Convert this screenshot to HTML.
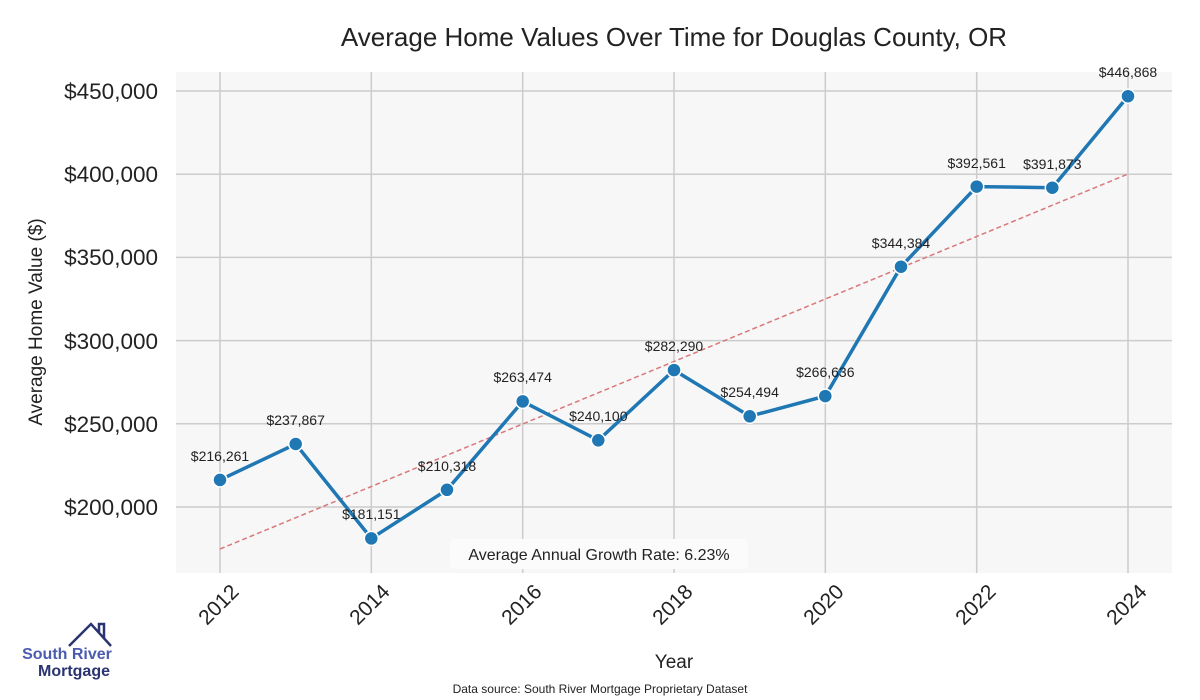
<!DOCTYPE html>
<html><head><meta charset="utf-8"><style>body{margin:0;background:#fff}svg{display:block;font-family:"Liberation Sans",sans-serif}</style></head><body>
<svg width="1200" height="700" xmlns="http://www.w3.org/2000/svg">
<rect x="176" y="72" width="996" height="501" fill="#f7f7f7"/>
<g stroke="#cccccc" stroke-width="1.5">
<line x1="176" x2="1172" y1="91" y2="91"/><line x1="176" x2="1172" y1="174.2" y2="174.2"/><line x1="176" x2="1172" y1="257.4" y2="257.4"/><line x1="176" x2="1172" y1="340.6" y2="340.6"/><line x1="176" x2="1172" y1="423.8" y2="423.8"/><line x1="176" x2="1172" y1="507" y2="507"/>
<line y1="72" y2="573" x1="220" x2="220"/><line y1="72" y2="573" x1="371.3" x2="371.3"/><line y1="72" y2="573" x1="522.7" x2="522.7"/><line y1="72" y2="573" x1="674" x2="674"/><line y1="72" y2="573" x1="825.3" x2="825.3"/><line y1="72" y2="573" x1="976.7" x2="976.7"/><line y1="72" y2="573" x1="1128" x2="1128"/>
</g>
<line x1="220" y1="549" x2="1128" y2="174" stroke="#d9787a" stroke-width="1.5" stroke-dasharray="5,3"/>
<polyline fill="none" stroke="#1f77b4" stroke-width="3.5" points="220,479.9 295.7,444 371.3,538.4 447,489.8 522.7,401.4 598.3,440.3 674,370.1 749.7,416.3 825.3,396.1 901,266.7 976.7,186.6 1052.3,187.7 1128,96.2"/>
<g fill="#1f77b4" stroke="#fff" stroke-width="1.5">
<circle cx="220" cy="479.9" r="7"/><circle cx="295.7" cy="444" r="7"/><circle cx="371.3" cy="538.4" r="7"/><circle cx="447" cy="489.8" r="7"/><circle cx="522.7" cy="401.4" r="7"/><circle cx="598.3" cy="440.3" r="7"/><circle cx="674" cy="370.1" r="7"/><circle cx="749.7" cy="416.3" r="7"/><circle cx="825.3" cy="396.1" r="7"/><circle cx="901" cy="266.7" r="7"/><circle cx="976.7" cy="186.6" r="7"/><circle cx="1052.3" cy="187.7" r="7"/><circle cx="1128" cy="96.2" r="7"/>
</g>
<g font-size="14" fill="#222" text-anchor="middle">
<text x="220" y="461">$216,261</text><text x="295.7" y="425">$237,867</text><text x="371.3" y="519">$181,151</text><text x="447" y="471">$210,318</text><text x="522.7" y="382">$263,474</text><text x="598.3" y="421">$240,100</text><text x="674" y="351">$282,290</text><text x="749.7" y="397">$254,494</text><text x="825.3" y="377">$266,636</text><text x="901" y="248">$344,384</text><text x="976.7" y="168">$392,561</text><text x="1052.3" y="169">$391,873</text><text x="1128" y="77">$446,868</text>
</g>
<rect x="450" y="539" width="298" height="30" rx="5" fill="#fbfbfb"/>
<text x="599" y="560" font-size="16" text-anchor="middle" fill="#222">Average Annual Growth Rate: 6.23%</text>
<g font-size="22.5" fill="#222" text-anchor="end">
<text x="158" y="99">$450,000</text><text x="158" y="182">$400,000</text><text x="158" y="265">$350,000</text><text x="158" y="349">$300,000</text><text x="158" y="432">$250,000</text><text x="158" y="515">$200,000</text>
</g>
<g font-size="21" fill="#222" text-anchor="end">
<text transform="translate(240,593) rotate(-45)">2012</text><text transform="translate(391,593) rotate(-45)">2014</text><text transform="translate(543,593) rotate(-45)">2016</text><text transform="translate(694,593) rotate(-45)">2018</text><text transform="translate(845,593) rotate(-45)">2020</text><text transform="translate(997,593) rotate(-45)">2022</text><text transform="translate(1148,593) rotate(-45)">2024</text>
</g>
<text x="674" y="668" font-size="19" text-anchor="middle" fill="#222">Year</text>
<text transform="translate(42,322) rotate(-90)" font-size="19" text-anchor="middle" fill="#222">Average Home Value ($)</text>
<text x="674" y="46" font-size="26" text-anchor="middle" fill="#222">Average Home Values Over Time for Douglas County, OR</text>
<text x="600" y="693" font-size="12" text-anchor="middle" fill="#222">Data source: South River Mortgage Proprietary Dataset</text>
<polyline points="69,646 91,624 111,646" fill="none" stroke="#2a3470" stroke-width="2.5"/>
<polyline points="99,632 99,624 104,624 104,638" fill="none" stroke="#2a3470" stroke-width="2.5"/>
<text x="67" y="659" font-size="16" font-weight="bold" text-anchor="middle" fill="#4a5bb0">South River</text>
<text x="74" y="676" font-size="16" font-weight="bold" text-anchor="middle" fill="#2a3470">Mortgage</text>
</svg>
</body></html>
